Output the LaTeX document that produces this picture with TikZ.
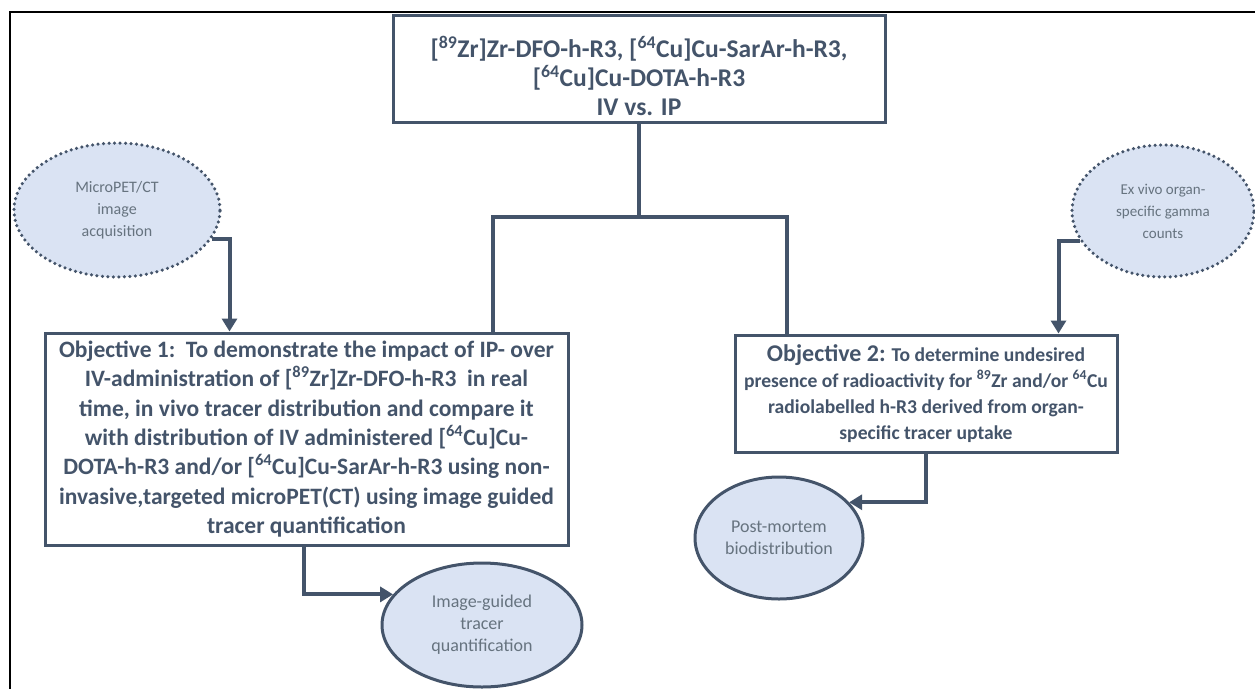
\documentclass[tikz,border=0pt]{standalone}
\usepackage{fontspec}
\setmainfont{Carlito}
\usepackage{tikz}
\usetikzlibrary{calc,positioning,shapes.geometric,arrows.meta}
\definecolor{slate}{HTML}{44546A}
\definecolor{palesky}{HTML}{DAE3F3}
\definecolor{greytext}{HTML}{66737F}
\tikzset{
 flow box/.style={draw=slate,line width=3pt,fill=white,align=center,
                  text=slate,font=\bfseries,inner sep=2pt},
 flow line/.style={draw=slate,line width=4pt,line join=miter},
 flow arrow/.style={flow line,-{Triangle[width=15pt,length=13pt]}},
 flow ellipse/.style={ellipse,fill=palesky,draw=slate,line width=3pt,
                  inner sep=0pt,align=center,text=greytext,
                  font=\fontsize{18}{22}\selectfont},
 flow dotted/.style={flow ellipse,line width=3.5pt,line cap=round,
                  dash pattern=on 0pt off 5.5pt,
                  font=\fontsize{16}{22}\selectfont},
 frame line/.style={black,line width=2pt}
}

\begin{document}
\begin{tikzpicture}[x=1pt,y=-1pt]
 \useasboundingbox (0,0) rectangle (1255,689);
 \draw[frame line] (1255,12) -- (10,12) -- (10,689);

 \node[flow box,minimum width=492pt,minimum height=107pt,
       font=\bfseries\fontsize{25.5}{29}\selectfont] (top) at (639,68.5)
  {\rule{0pt}{36pt}[\textsuperscript{89}Zr]Zr-DFO-h-R3, [\textsuperscript{64}Cu]Cu-SarAr-h-R3,\\{}%
   [\textsuperscript{64}Cu]Cu-DOTA-h-R3\\ IV vs. IP};

 \node[flow box,minimum width=523pt,minimum height=212pt,
       font=\bfseries\fontsize{23.5}{29.3}\selectfont] (obj1) at (306.5,439)
  {Objective 1:\ \ To demonstrate the impact of IP- over\\
   IV-administration of [\textsuperscript{89}Zr]Zr-DFO-h-R3\ \ in real\\
   time, in vivo tracer distribution and compare it\\
   with distribution of IV administered [\textsuperscript{64}Cu]Cu-\\
   DOTA-h-R3 and/or [\textsuperscript{64}Cu]Cu-SarAr-h-R3 using non-\\
   invasive,targeted microPET(CT) using image guided\\
   tracer quantification};

 \node[flow box,minimum width=382pt,minimum height=117pt,
       font=\bfseries\fontsize{19.6}{26}\selectfont] (obj2) at (926,393.5)
  {{\fontsize{24}{26}\selectfont Objective 2:} To determine undesired\\
   presence of radioactivity for \textsuperscript{89}Zr and/or \textsuperscript{64}Cu\\
   radiolabelled h-R3 derived from organ-\\
   specific tracer uptake};

 \node[flow dotted,minimum width=206pt,minimum height=134pt] (micro) at (117,210)
  {MicroPET/CT\\ image\\ acquisition};
 \node[flow dotted,minimum width=182pt,minimum height=132pt,
       font=\fontsize{15}{22}\selectfont] (exvivo) at (1163,211)
  {Ex vivo organ-\\ specific gamma\\ counts};
 \node[flow ellipse,minimum width=168pt,minimum height=122pt] (post) at (779,538)
  {Post-mortem\\ biodistribution};
 \node[flow ellipse,minimum width=200pt,minimum height=124pt] (imgq) at (482,625)
  {Image-guided\\ tracer\\ quantification};

 % split from the top box
 \coordinate (jl) at (493,217);
 \coordinate (jr) at (787,217);
 \draw[flow line] (top.south) -- (top.south |- jl);
 \draw[flow line] (jl |- obj1.north) -- (jl) -- (jr) -- (jr |- obj2.north);

 \draw[flow arrow] (micro.-17) -| ([xshift=186pt]obj1.north west);
 \draw[flow arrow] (exvivo.200) -| ([xshift=325pt]obj2.north west);
 \draw[flow arrow] ([xshift=260pt]obj1.south west) |- (imgq.161);
 \draw[flow arrow] (obj2.south) |- (post.27);
\end{tikzpicture}
\end{document}
